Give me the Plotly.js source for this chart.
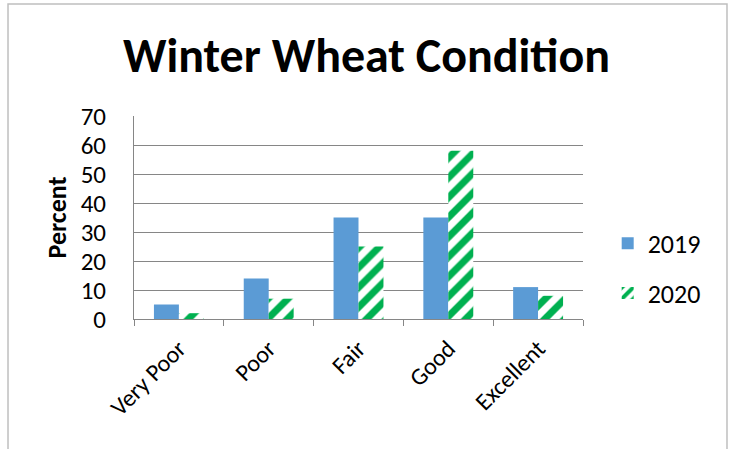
<!DOCTYPE html>
<html>
<head>
<meta charset="utf-8">
<script src="https://cdn.plot.ly/plotly-3.0.1.min.js"></script>
<style>html,body{margin:0;padding:0;background:#fff;}#chart{width:733px;height:449px;}</style>
</head>
<body>
<div id="chart"></div>
<script>
const categories = ["Very Poor", "Poor", "Fair", "Good", "Excellent"];
const values2019 = [5, 14, 35, 35, 11];
const values2020 = [2, 7, 25, 58, 8];
const seriesNames = ["2019", "2020"];
const yTicks = [0, 10, 20, 30, 40, 50, 60, 70];

const FONT = "Carlito, Lato, 'Open Sans', sans-serif";

const traces = [
  {
    type: "bar", name: seriesNames[0], x: categories, y: values2019,
    legendgroup: "a",
    marker: {color: "#5B9BD5", line: {width: 0}},
    hoverinfo: "none"
  },
  {
    type: "bar", name: seriesNames[1], x: categories, y: values2020,
    legendgroup: "b",
    marker: {color: "#ffffff", line: {width: 0},
      pattern: {shape: "/", fgcolor: "#00B050", bgcolor: "#ffffff", size: 14, solidity: 0.5, fillmode: "replace"}},
    hoverinfo: "none"
  }
];

const layout = {
  width: 733, height: 449,
  margin: {l: 134, r: 150, t: 116, b: 130},
  paper_bgcolor: "#ffffff", plot_bgcolor: "#ffffff",
  font: {family: FONT, color: "#000000", size: 24},
  title: {text: "<b>Winter Wheat Condition</b>", font: {family: FONT, size: 48, color: "#000"},
          x: 0.5, xanchor: "center", y: 0.877, yanchor: "middle"},
  barmode: "group", bargap: 0.444, bargroupgap: 0,
  showlegend: true,
  legend: {x: 1.055, xanchor: "left", y: 0.25, yanchor: "middle", font: {size: 26, family: FONT},
           tracegroupgap: 13, bgcolor: "rgba(0,0,0,0)", itemwidth: 30},
  xaxis: {
    type: "category", tickangle: -45, tickson: "boundaries", ticks: "outside", ticklen: 6,
    tickcolor: "#868686", showline: true, linecolor: "#868686", linewidth: 1,
    showgrid: false, tickfont: {size: 24, family: FONT}, ticklabelstandoff: 5,
    fixedrange: true, automargin: false
  },
  yaxis: {
    range: [0, 70], tickvals: yTicks, ticktext: yTicks.map(String), showgrid: true,
    gridcolor: "#868686", gridwidth: 1, showline: true, linecolor: "#868686", linewidth: 1,
    ticks: "", ticklabelstandoff: 22, zeroline: false, tickfont: {size: 25, family: FONT},
    title: {text: "<b>Percent</b>", font: {size: 26, family: FONT}, standoff: 6},
    fixedrange: true, automargin: false
  },
  shapes: [{
    type: "rect", xref: "paper", yref: "paper",
    x0: -0.2806, x1: 1.3207, y0: -0.7, y1: 1.5517,
    line: {color: "#BFBFBF", width: 1.5}, fillcolor: "rgba(0,0,0,0)", layer: "below"
  }]
};

Plotly.newPlot("chart", traces, layout, {displayModeBar: false, staticPlot: true});
</script>
</body>
</html>
